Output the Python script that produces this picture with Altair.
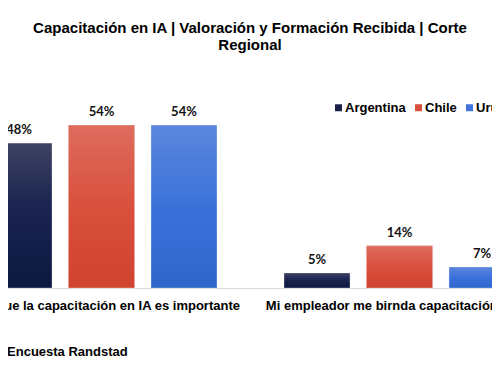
import altair as alt
import pandas as pd

# ---- data ----
categories = [
    "Creo que la capacitación en IA es importante",
    "Mi empleador me birnda capacitación en IA",
]
countries = ["Argentina", "Chile", "Uruguay"]
argentina = [48, 5]
chile = [54, 14]
uruguay = [54, 7]

base_colors = ["#1b2448", "#d94f3d", "#3f74dc"]
gradient_stops = {
    "Argentina": [("#3f4363", 0.0), ("#1c2651", 0.4), ("#0b1840", 1.0)],
    "Chile": [("#de6c5e", 0.0), ("#d9503d", 0.5), ("#cf432f", 1.0)],
    "Uruguay": [("#5b86dd", 0.0), ("#3b72da", 0.5), ("#2f66cc", 1.0)],
}

rows = []
for country, vals in zip(countries, [argentina, chile, uruguay]):
    for cat, v in zip(categories, vals):
        rows.append({"pregunta": cat, "pais": country, "valor": v})
df = pd.DataFrame(rows)

FONT = "Liberation Sans"

x_enc = alt.X(
    "pregunta:N",
    sort=categories,
    scale=alt.Scale(range=[-55.5, 540.5], paddingInner=0.225, paddingOuter=0.1125),
    axis=alt.Axis(
        title="Fuente: Encuesta Randstad",
        labelAngle=0,
        labelFont=FONT,
        labelFontSize=13,
        labelFontWeight="bold",
        labelColor="#000000",
        labelPadding=17,
        labelBaseline="middle",
        labelLimit=0,
        labelOverlap=False,
        ticks=False,
        tickSize=0,
        domainColor="#d9d9d9",
        domainWidth=1,
        titleFont=FONT,
        titleFontSize=13,
        titleFontWeight="bold",
        titleColor="#000000",
        titleX=-52,
        titleY=63,
        titleAlign="left",
        titleBaseline="middle",
    ),
)
xoff_enc = alt.XOffset(
    "pais:N",
    sort=countries,
    scale=alt.Scale(domain=countries, paddingInner=0.2, paddingOuter=0),
)
y_enc = alt.Y("valor:Q", scale=alt.Scale(domain=[0, 60]), axis=None)

base = alt.Chart(df).encode(x=x_enc, xOffset=xoff_enc, y=y_enc)

bars = base.mark_bar().encode(
    color=alt.Color(
        "pais:N",
        sort=countries,
        scale=alt.Scale(domain=countries, range=base_colors),
        legend=alt.Legend(
            title=None,
            orient="none",
            legendX=324,
            legendY=-6,
            direction="horizontal",
            columns=3,
            symbolType="square",
            symbolSize=49,
            symbolStrokeWidth=0,
            labelFont=FONT,
            labelFontSize=13,
            labelFontWeight="bold",
            labelColor="#000000",
            labelOffset=0,
            columnPadding=6,
            padding=0,
        ),
    )
)

grad_layers = []
for country in countries:
    grad = alt.LinearGradient(
        gradient="linear",
        x1=0, x2=0, y1=0, y2=1,
        stops=[alt.GradientStop(color=c, offset=o) for c, o in gradient_stops[country]],
    )
    grad_layers.append(
        base.transform_filter(alt.datum.pais == country).mark_bar(
            color=grad, stroke="#ffffff", strokeOpacity=0.3, strokeWidth=1
        )
    )

labels = (
    base.transform_calculate(label="datum.valor + '%'")
    .mark_text(font="Lato", fontSize=13, fontWeight="bold", color="#111111",
               baseline="middle", dy=-13)
    .encode(text="label:N")
)

chart = (
    alt.layer(bars, *grad_layers, labels)
    .properties(
        width=484,
        height=181,
        autosize=alt.AutoSizeParams(type="none"),
        padding={"left": 0, "top": 99, "right": 0, "bottom": 84},
        title=alt.TitleParams(
            text=["Capacitación en IA | Valoración y Formación Recibida | Corte", "Regional"],
            font=FONT,
            fontSize=15,
            fontWeight="bold",
            color="#000000",
            anchor="middle",
            frame="group",
            offset=48.5,
            lineHeight=17,
        ),
    )
    .configure_view(strokeWidth=0)
)

chart.save("out.html", embed_options={"renderer": "svg", "actions": False})
